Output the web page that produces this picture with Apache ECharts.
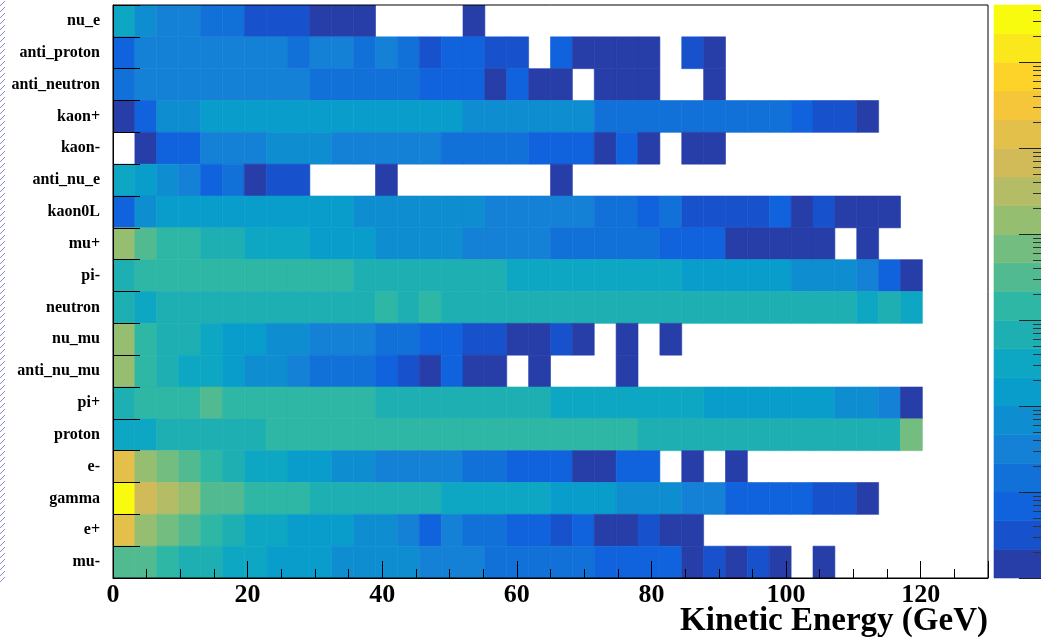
<!DOCTYPE html>
<html>
<head>
<meta charset="utf-8">
<script src="https://cdn.jsdelivr.net/npm/echarts@6/dist/echarts.min.js"></script>
<style>
  html, body { margin: 0; padding: 0; background: #fff; }
  #chart { width: 1041px; height: 641px; }
</style>
</head>
<body>
<div id="chart"></div>
<script>
// ---- Data (colour level per 3.25 GeV bin; level = 3*log10(count), null = empty bin) ----
const BIN_W = 3.25;            // GeV per bin
const X_MIN = 0, X_MAX = 130;  // axis range
const X_TICKS = [0, 20, 40, 60, 80, 100, 120];
const particles = ['nu_e', 'anti_proton', 'anti_neutron', 'kaon+', 'kaon-', 'anti_nu_e', 'kaon0L',
  'mu+', 'pi-', 'neutron', 'nu_mu', 'anti_nu_mu', 'pi+', 'proton', 'e-', 'gamma', 'e+', 'mu-'];

const nu_e         = [7,5,4,4,3,3,1,1,1,0,0,0,null,null,null,null,0];
const anti_proton  = [2,4,4,4,4,4,4,4,3,4,4,3,4,3,1,2,2,1,1,null,2,0,0,0,0,null,1,0];
const anti_neutron = [3,4,4,4,4,4,4,4,4,3,3,3,3,3,2,2,2,0,2,0,0,null,0,0,0,null,null,0];
const kaon_plus    = [0,2,5,5,6,6,6,6,6,6,6,6,6,6,6,6,5,5,5,5,5,5,3,3,3,3,3,3,3,3,3,2,1,1,0];
const kaon_minus   = [null,0,2,2,4,4,4,5,5,5,4,4,4,4,4,3,3,3,3,2,2,2,0,2,0,null,0,0];
const anti_nu_e    = [7,6,5,4,2,3,0,1,1,null,null,null,0,null,null,null,null,null,null,null,0];
const kaon0L       = [2,5,6,6,6,6,6,6,6,6,6,5,5,5,5,5,5,4,4,4,4,4,3,3,2,3,1,1,1,1,2,0,1,0,0,0];
const mu_plus      = [12,10,9,9,8,8,7,7,7,6,6,6,5,5,5,5,4,4,4,4,3,3,3,3,3,2,2,2,0,0,0,0,0,null,0];
const pi_minus     = [8,9,9,9,9,9,9,9,9,9,9,8,8,8,8,8,8,8,7,7,7,7,7,7,7,7,6,6,6,6,6,5,5,5,4,2,0];
const neutron      = [8,7,8,8,8,8,8,8,8,8,8,8,9,8,9,8,8,8,8,8,8,8,8,8,8,8,8,8,8,8,8,8,8,8,7,8,7];
const nu_mu        = [12,9,8,8,7,6,6,5,5,4,4,4,3,3,2,2,1,1,0,0,1,0,null,0,null,0];
const anti_nu_mu   = [12,9,8,7,7,6,5,5,4,3,3,3,2,1,0,2,0,0,null,0,null,null,null,0];
const pi_plus      = [8,9,9,9,10,9,9,9,9,9,9,9,8,8,8,8,8,8,8,8,7,7,7,7,7,7,7,6,6,6,6,6,6,5,5,4,0];
const proton       = [7,7,8,8,8,8,8,9,9,9,9,9,9,9,9,9,9,9,9,9,9,9,9,9,8,8,8,8,8,8,8,8,8,8,8,8,11];
const e_minus      = [15,12,11,10,9,8,7,7,6,6,5,5,4,4,4,4,3,3,2,2,2,0,0,2,2,null,0,null,0];
const gamma        = [19,14,13,12,10,10,9,9,9,8,8,8,8,8,8,7,7,7,7,7,6,6,6,5,5,5,4,4,2,2,2,2,1,1,0];
const e_plus       = [15,12,11,10,9,8,7,7,6,6,6,5,5,4,2,4,3,3,2,2,1,2,0,0,1,0,0];
const mu_minus     = [10,10,9,8,8,7,7,6,6,6,5,5,5,5,4,4,4,3,3,3,3,3,2,2,2,2,0,1,0,1,0,null,0];

const rows = [nu_e, anti_proton, anti_neutron, kaon_plus, kaon_minus, anti_nu_e, kaon0L, mu_plus,
  pi_minus, neutron, nu_mu, anti_nu_mu, pi_plus, proton, e_minus, gamma, e_plus, mu_minus];

// colour scale: 20 contour levels, 3 levels per decade, z from 1 to 10^(20/3)
const N_LEVELS = 20;
const LEVELS_PER_DECADE = 3;
const Z_DECADES = [0, 1, 2, 3, 4, 5, 6];

// ---- ROOT kBird palette ----
const stops = [0.0, 0.125, 0.25, 0.375, 0.5, 0.625, 0.75, 0.875, 1.0];
const red   = [0.2082, 0.0592, 0.0780, 0.0232, 0.1802, 0.5301, 0.8186, 0.9956, 0.9764];
const green = [0.1664, 0.3599, 0.5041, 0.6419, 0.7178, 0.7492, 0.7328, 0.7862, 0.9832];
const blue  = [0.5293, 0.8684, 0.8385, 0.7914, 0.6425, 0.4662, 0.3499, 0.1968, 0.0539];
function bird(f) {
  let s = 0;
  while (s < stops.length - 2 && f > stops[s + 1]) s++;
  const t = (f - stops[s]) / (stops[s + 1] - stops[s]);
  const c = (a) => Math.round(255 * (a[s] + (a[s + 1] - a[s]) * t));
  return 'rgb(' + c(red) + ',' + c(green) + ',' + c(blue) + ')';
}
const palette = [];
for (let k = 0; k < N_LEVELS; k++) {
  palette.push(bird(Math.floor((k + 0.99) * 255 / N_LEVELS) / 254));
}

// ---- build series data ----
const cells = [];
rows.forEach((arr, r) => {
  arr.forEach((lv, i) => {
    if (lv !== null && lv !== undefined) cells.push([i * BIN_W, (i + 1) * BIN_W, r, lv]);
  });
});
const bandData = [];
for (let k = 0; k < N_LEVELS; k++) bandData.push([0, k / LEVELS_PER_DECADE, (k + 1) / LEVELS_PER_DECADE, k]);
const minorTicks = [];
Z_DECADES.forEach(d => {
  for (let m = 2; m <= 9; m++) {
    const v = d + Math.log10(m);
    if (v < N_LEVELS / LEVELS_PER_DECADE) minorTicks.push(v);
  }
});

// hatched strip at the far left edge (frame remnant)
const hatch = document.createElement('canvas');
hatch.width = 6; hatch.height = 6;
(function () {
  const c = hatch.getContext('2d');
  c.fillStyle = '#fff'; c.fillRect(0, 0, 6, 6);
  c.strokeStyle = '#8a90c8'; c.lineWidth = 1;
  c.beginPath(); c.moveTo(0, 6); c.lineTo(6, 0); c.moveTo(-1, 1); c.lineTo(1, -1); c.moveTo(5, 7); c.lineTo(7, 5); c.stroke();
})();

const FONT = '"Liberation Serif", "Times New Roman", serif';
const chart = echarts.init(document.getElementById('chart'), null, { renderer: 'canvas' });
chart.setOption({
  backgroundColor: '#ffffff',
  animation: false,
  grid: [
    { left: 113, top: 5, width: 875, height: 573, show: true, borderColor: '#000', borderWidth: 1, z: 4,
      backgroundColor: 'transparent', containLabel: false, outerBoundsMode: 'none' },
    { left: 994, top: 5, width: 52, height: 573, show: false, containLabel: false, outerBoundsMode: 'none' }
  ],
  graphic: [
    { type: 'rect', left: 0, top: 0, z: 0, shape: { width: 5, height: 582 }, style: { fill: { image: hatch, repeat: 'repeat' } } },
    { type: 'text', right: 53, top: 605, z: 5,
      style: { text: 'Kinetic Energy (GeV)', fontFamily: FONT, fontWeight: 'bold', fontSize: 33, fill: '#000' } }
  ],
  xAxis: [
    {
      gridIndex: 0, type: 'value', min: X_MIN, max: X_MAX, interval: 20, z: 5,
      axisLine: { show: true, lineStyle: { color: '#000', width: 1 } },
      axisTick: { show: true, inside: true, length: 17, lineStyle: { color: '#000' } },
      minorTick: { show: true, splitNumber: 4, length: 9, lineStyle: { color: '#000' } },
      splitLine: { show: false },
      axisLabel: { fontFamily: FONT, fontWeight: 'bold', fontSize: 26, color: '#000', margin: 4, customValues: X_TICKS }
    },
    { gridIndex: 1, type: 'category', data: ['z'], show: false }
  ],
  yAxis: [
    {
      gridIndex: 0, type: 'category', data: particles, inverse: true, z: 5,
      axisLine: { show: true, lineStyle: { color: '#000', width: 1 } },
      axisTick: { show: true, inside: true, length: 27, lineStyle: { color: '#000' } },
      splitLine: { show: false },
      axisLabel: { fontFamily: FONT, fontWeight: 'bold', fontSize: 16, color: '#000', margin: 13 }
    },
    {
      gridIndex: 1, type: 'value', min: 0, max: N_LEVELS / LEVELS_PER_DECADE, position: 'right', z: 5,
      axisLine: { show: false },
      axisTick: { show: true, inside: true, length: 27, customValues: Z_DECADES, lineStyle: { color: '#222' } },
      axisLabel: { show: false }, splitLine: { show: false }
    },
    {
      gridIndex: 1, type: 'value', min: 0, max: N_LEVELS / LEVELS_PER_DECADE, position: 'right', z: 5,
      axisLine: { show: false },
      axisTick: { show: true, inside: true, length: 13, customValues: minorTicks, lineStyle: { color: '#333' } },
      axisLabel: { show: false }, splitLine: { show: false }
    }
  ],
  series: [
    {
      type: 'custom', xAxisIndex: 0, yAxisIndex: 0, clip: true, z: 1,
      data: cells,
      renderItem: function (params, api) {
        const r = api.value(2);
        const p0 = api.coord([api.value(0), r]);
        const p1 = api.coord([api.value(1), r]);
        const h = api.size([0, 1])[1];
        const col = palette[api.value(3)];
        return {
          type: 'rect',
          shape: { x: p0[0], y: p0[1] - h / 2, width: p1[0] - p0[0], height: h },
          style: { fill: col, stroke: col, lineWidth: 0.6 }
        };
      }
    },
    {
      type: 'custom', xAxisIndex: 1, yAxisIndex: 1, z: 1,
      data: bandData,
      renderItem: function (params, api) {
        const p0 = api.coord([api.value(0), api.value(1)]);
        const p1 = api.coord([api.value(0), api.value(2)]);
        const w = api.size([1, 0])[0];
        const col = palette[api.value(3)];
        return {
          type: 'rect',
          shape: { x: p0[0] - w / 2, y: p1[1], width: w, height: p0[1] - p1[1] },
          style: { fill: col, stroke: col, lineWidth: 0.6 }
        };
      }
    }
  ]
});
</script>
</body>
</html>
